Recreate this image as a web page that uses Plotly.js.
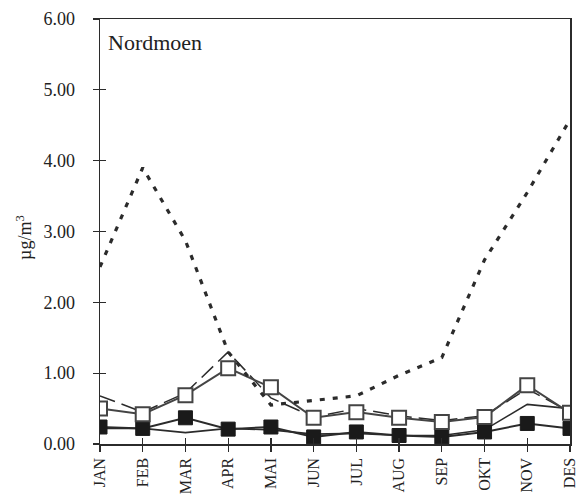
<!DOCTYPE html>
<html>
<head>
<meta charset="utf-8">
<script src="https://cdn.plot.ly/plotly-3.0.1.min.js"></script>
<style>
  html, body { margin: 0; padding: 0; background: #fff; }
  #chart { width: 580px; height: 501px; }
</style>
</head>
<body>
<div id="chart"></div>
<script>
// Monthly concentrations at Nordmoen (µg/m³)
const months = ["JAN", "FEB", "MAR", "APR", "MAI", "JUN", "JUL", "AUG", "SEP", "OKT", "NOV", "DES"];

const dottedSeries   = [2.50, 3.90, 2.87, 1.30, 0.55, 0.62, 0.68, 0.97, 1.22, 2.60, 3.55, 4.58];
const dashedSeries   = [0.68, 0.45, 0.72, 1.30, 0.65, 0.38, 0.50, 0.40, 0.33, 0.40, 0.78, 0.45];
const openSquares    = [0.50, 0.42, 0.69, 1.07, 0.80, 0.37, 0.45, 0.37, 0.31, 0.38, 0.83, 0.44];
const solidSeries    = [0.22, 0.22, 0.16, 0.22, 0.20, 0.14, 0.15, 0.12, 0.12, 0.20, 0.56, 0.50];
const filledSquares  = [0.24, 0.22, 0.37, 0.21, 0.24, 0.10, 0.17, 0.12, 0.10, 0.17, 0.29, 0.22];

const yTicks = [0, 1, 2, 3, 4, 5, 6];
const yTickText = ["0.00", "1.00", "2.00", "3.00", "4.00", "5.00", "6.00"];

const ink = "#2b2b2b";
const serif = "Liberation Serif";

const traces = [
  {
    x: months, y: solidSeries, type: "scatter", mode: "lines",
    line: { color: ink, width: 1.6 }
  },
  {
    x: months, y: filledSquares, type: "scatter", mode: "lines+markers",
    line: { color: ink, width: 2 },
    marker: { symbol: "square", size: 14, color: "#1a1a1a", line: { color: "#1a1a1a", width: 1 } }
  },
  {
    x: months, y: dashedSeries, type: "scatter", mode: "lines",
    line: { color: ink, width: 1.5, dash: "16px,7px" }
  },
  {
    x: months, y: openSquares, type: "scatter", mode: "lines+markers",
    line: { color: "#444", width: 2 },
    marker: { symbol: "square", size: 14, color: "#fff", line: { color: "#444", width: 2 } }
  },
  {
    x: months, y: dottedSeries, type: "scatter", mode: "lines",
    line: { color: ink, width: 3.2, dash: "5px,8px" }
  }
];

const layout = {
  width: 580, height: 501,
  margin: { l: 100, r: 10, t: 19, b: 57 },
  paper_bgcolor: "#fff", plot_bgcolor: "#fff",
  showlegend: false,
  font: { family: serif, color: "#222", size: 16 },
  xaxis: {
    type: "category", categoryorder: "array", categoryarray: months,
    range: [0, 11],
    showgrid: false, zeroline: false,
    showline: true, linecolor: ink, linewidth: 1.5, mirror: true,
    ticks: "outside", ticklen: 6, tickwidth: 1.3, tickcolor: ink,
    tickangle: -90, tickfont: { family: serif, size: 16, color: "#222" },
    layer: "below traces"
  },
  xaxis2: {
    overlaying: "x", anchor: "y", side: "bottom",
    range: [0, 11], tickvals: [0,1,2,3,4,5,6,7,8,9,10,11],
    showticklabels: false, showgrid: false, zeroline: false, showline: false,
    ticks: "inside", ticklen: 6, tickwidth: 1.3, tickcolor: ink
  },
  yaxis: {
    range: [0, 6], tickvals: yTicks, ticktext: yTickText,
    showgrid: false, zeroline: false,
    showline: true, linecolor: ink, linewidth: 1.5, mirror: true,
    ticks: "outside", ticklen: 6, tickwidth: 1.3, tickcolor: ink,
    ticklabelstandoff: 14,
    tickfont: { family: serif, size: 18, color: "#222" },
    layer: "below traces"
  },
  yaxis2: {
    overlaying: "y", anchor: "x", side: "left",
    range: [0, 6], tickvals: yTicks,
    showticklabels: false, showgrid: false, zeroline: false, showline: false,
    ticks: "inside", ticklen: 6, tickwidth: 1.3, tickcolor: ink
  },
  annotations: [
    {
      text: "Nordmoen", xref: "paper", yref: "paper",
      x: 0.013, y: 0.945, xanchor: "left", yanchor: "middle",
      showarrow: false, font: { family: serif, size: 22, color: "#222" }
    },
    {
      // unit label for the value axis
      text: "µg/m<sup>3</sup>", xref: "paper", yref: "paper",
      x: -0.162, y: 0.487, xanchor: "center", yanchor: "middle",
      textangle: -90, showarrow: false,
      font: { family: serif, size: 18, color: "#222" }
    }
  ]
};

// Invisible helper trace so the secondary tick axes are rendered
traces.push({ x: [0], y: [0], xaxis: "x2", yaxis: "y2", mode: "markers",
  marker: { opacity: 0 }, hoverinfo: "skip", type: "scatter" });

Plotly.newPlot("chart", traces, layout, { staticPlot: true });
</script>
</body>
</html>
